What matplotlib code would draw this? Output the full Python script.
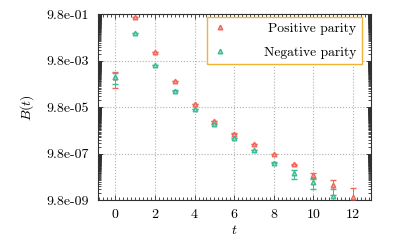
import numpy as np
import matplotlib
matplotlib.use("Agg")
import matplotlib.pyplot as plt
from matplotlib.ticker import FixedLocator, NullFormatter

# data
t_pos = [0, 1, 2, 3, 4, 5, 6, 7, 8, 9, 10, 11, 12]
b_pos = [1.98e-3, 0.79, 2.44e-2, 1.33e-3, 1.32e-4, 2.44e-5, 7.13e-6, 2.57e-6,
         9.5e-7, 3.42e-7, 1.15e-7, 4.39e-8, 1.38e-8]
e_pos = [1.3e-3, 0.01, 3e-4, 2e-5, 2e-6, 4e-7, 1.5e-7, 6e-8,
         3e-8, 2.5e-8, 3.5e-8, 2.8e-8, 1.8e-8]

t_neg = [0, 1, 2, 3, 4, 5, 6, 7, 8, 9, 10, 11]
b_neg = [1.98e-3, 0.152, 6.33e-3, 5.1e-4, 8.28e-5, 1.81e-5, 4.66e-6, 1.41e-6,
         4.01e-7, 1.38e-7, 5.73e-8, 1.52e-8]
e_neg = [1.0e-3, 2e-3, 1e-4, 8e-6, 1.2e-6, 3e-7, 9e-8, 3.5e-8,
         1.5e-8, 5.6e-8, 2.8e-8, 1.4e-8]

ymajor = [9.8e-9, 9.8e-7, 9.8e-5, 9.8e-3, 9.8e-1]
ylabels = ["9.8e-09", "9.8e-07", "9.8e-05", "9.8e-03", "9.8e-01"]
xmajor = [0, 2, 4, 6, 8, 10, 12]

red = "#f2665a"
teal = "#3cbb94"
red_l = "#f8a8a0"
teal_l = "#9cdcc8"

plt.rcParams['font.family'] = 'cmr10'
plt.rcParams['mathtext.fontset'] = 'cm'
plt.rcParams['axes.formatter.use_mathtext'] = True
plt.rcParams['font.size'] = 10

fig = plt.figure(figsize=(3.98, 2.41), dpi=100)
ax = fig.add_axes([0.245, 0.170, 0.687, 0.770])

ax.errorbar(t_pos, b_pos, yerr=e_pos, fmt='^', color=red, mfc=red_l, mec=red, ms=3.3, mew=1.0,
            ecolor=red, elinewidth=0.7, capsize=2, capthick=0.7,
            label='Positive parity', zorder=3)
ax.errorbar(t_neg, b_neg, yerr=e_neg, fmt='^', color=teal, mfc=teal_l, mec=teal, ms=3.3, mew=1.0,
            ecolor=teal, elinewidth=0.7, capsize=2, capthick=0.7,
            label='Negative parity', zorder=3)

ax.set_yscale('log')
ax.set_ylim(9.8e-9, 9.8e-1)
ax.set_xlim(-0.9, 12.9)

# gnuplot style minor ticks: n * lower major, n = 2..99
yminor = []
for lo in ymajor[:-1]:
    for n in range(2, 100):
        yminor.append(lo * n)
ax.yaxis.set_major_locator(FixedLocator(ymajor))
ax.yaxis.set_minor_locator(FixedLocator(yminor))
ax.yaxis.set_minor_formatter(NullFormatter())
ax.set_yticks(ymajor)
ax.set_yticklabels(ylabels)
ax.set_xticks(xmajor)
ax.xaxis.set_minor_locator(FixedLocator(np.arange(-0.8, 12.9, 0.2)))
ax.xaxis.set_minor_formatter(NullFormatter())

ax.tick_params(which='both', direction='in', top=True, right=True, width=0.6, color='#303030')
ax.tick_params(which='major', length=3.5, pad=6)
ax.tick_params(which='minor', length=2)
for s in ax.spines.values():
    s.set_color('#303030')
    s.set_linewidth(0.8)

ax.grid(True, which='major', ls=':', color='#b0b0b0', lw=0.8)

ax.set_xlabel('$t$', labelpad=2)
ax.set_ylabel('$B(t)$', labelpad=8)

handles, labels = ax.get_legend_handles_labels()
leg = ax.legend([h[0] for h in handles], labels, loc='upper right',
                bbox_to_anchor=(0.967, 0.987), borderaxespad=0, borderpad=0.4,
                handlelength=1.1, handletextpad=2.7, labelspacing=0.85,
                fancybox=False, framealpha=1, edgecolor='#f2b233', fontsize=9.8)
leg.get_frame().set_linewidth(1.0)

# right-align the legend labels like the original
fig.canvas.draw()
r = fig.canvas.get_renderer()
texts = leg.get_texts()
w = [tx.get_window_extent(r).width for tx in texts]
diff = (max(w) - w[0]) * 72 / fig.dpi
col = leg._legend_handle_box.get_children()[0]
col.get_children()[0].sep += diff

fig.savefig('out.png', dpi=100)
